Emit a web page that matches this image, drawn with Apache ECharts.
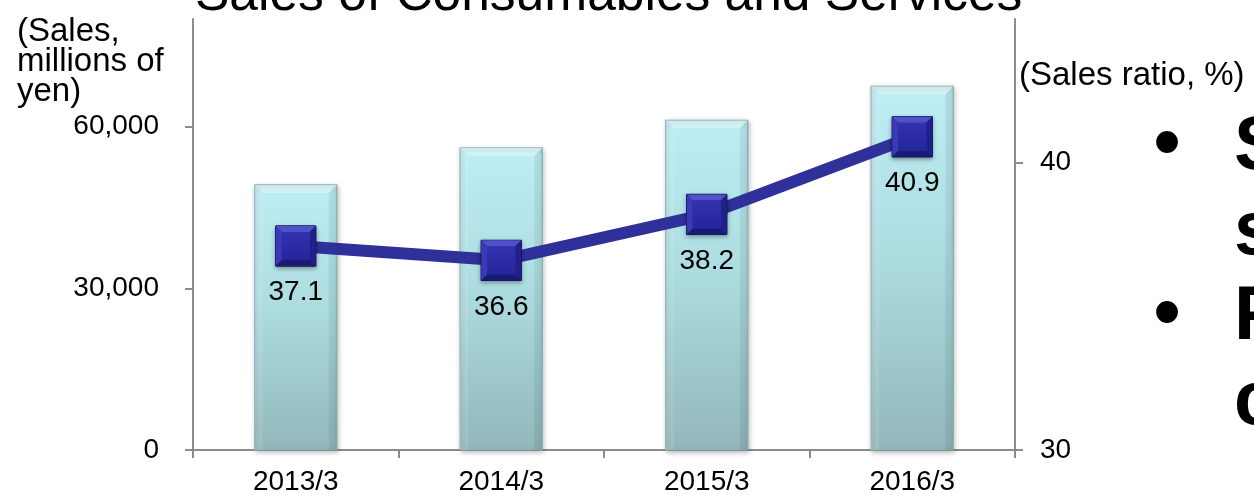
<!DOCTYPE html>
<html>
<head>
<meta charset="utf-8">
<script src="https://cdn.jsdelivr.net/npm/echarts@6/dist/echarts.min.js"></script>
<style>
html,body{margin:0;padding:0;background:#fff;}
#chart{width:1254px;height:497px;}
</style>
</head>
<body>
<div id="chart"></div>
<script>
const categories = ['2013/3', '2014/3', '2015/3', '2016/3'];
const salesValues = [49200, 56100, 61200, 67500];
const ratioValues = [37.1, 36.6, 38.2, 40.9];
const leftTicks = [0, 30000, 60000];
const rightTicks = [30, 40];
const chartTitle = 'Sales of Consumables and Services';
const leftAxisName = '(Sales,\nmillions of\nyen)';
const rightAxisName = '(Sales ratio, %)';
const sideLines = ['S', 's', 'F', 'c'];

const FONT = '"Liberation Sans", Arial, sans-serif';
const axisGray = '#8c8c8c';

const chart = echarts.init(document.getElementById('chart'));

const graphics = [
  { type: 'text', x: 195, y: -4, style: { text: chartTitle, font: '51.5px ' + FONT, fill: '#000', align: 'left', verticalAlign: 'middle' } },
  { type: 'text', x: 17, y: 17, style: { text: leftAxisName, font: '33px ' + FONT, fill: '#000', lineHeight: 30, align: 'left', verticalAlign: 'top' } },
  { type: 'text', x: 1019, y: 59, style: { text: rightAxisName, font: '33px ' + FONT, fill: '#000', align: 'left', verticalAlign: 'top' } }
];
const lineYs = [148, 233, 318, 403];
sideLines.forEach((t, i) => {
  graphics.push({ type: 'text', x: 1234, y: lineYs[i], style: { text: t, font: 'bold 76px ' + FONT, fill: '#000', align: 'left', verticalAlign: 'middle' } });
  if (i === 0 || i === 2) {
    graphics.push({ type: 'text', x: 1167, y: lineYs[i] - 2, style: { text: '\u2022', font: 'bold 76px ' + FONT, fill: '#000', align: 'center', verticalAlign: 'middle' } });
  }
});

const barData = salesValues.map((v, i) => [i, v]);
const markerData = ratioValues.map((v, i) => [i, v]);

function renderBar(params, api) {
  const idx = api.value(0), val = api.value(1);
  const top = api.coord([idx, val]);
  const base = api.coord([idx, 0]);
  const w = api.size([1, 0])[0] * 0.4;
  const x0 = top[0] - w / 2, x1 = top[0] + w / 2, y0 = top[1], y1 = base[1];
  const b = 8;
  return {
    type: 'group',
    children: [
      { type: 'rect', shape: { x: x0, y: y0, width: w, height: y1 - y0 },
        style: {
          fill: new echarts.graphic.LinearGradient(0, 0, 0, 1, [
            { offset: 0, color: '#bdeef3' },
            { offset: 0.45, color: '#addde1' },
            { offset: 1, color: '#92b7ba' }
          ]),
          stroke: '#8fb3b6', lineWidth: 1.2,
          shadowColor: 'rgba(0,0,0,0.28)', shadowBlur: 5, shadowOffsetX: 1, shadowOffsetY: 2
        } },
      { type: 'polygon', shape: { points: [[x0, y0], [x1, y0], [x1 - b, y0 + b], [x0 + b, y0 + b]] },
        style: { fill: 'rgba(255,255,255,0.35)' } },
      { type: 'polygon', shape: { points: [[x0, y0], [x0 + b, y0 + b], [x0 + b, y1], [x0, y1]] },
        style: { fill: 'rgba(255,255,255,0.12)' } },
      { type: 'polygon', shape: { points: [[x1, y0], [x1, y1], [x1 - b, y1], [x1 - b, y0 + b]] },
        style: { fill: 'rgba(0,40,50,0.08)' } }
    ]
  };
}

function renderMarker(params, api) {
  const p = api.coord([api.value(0), api.value(1)]);
  const s = 40, h = s / 2, b = 6;
  const x0 = p[0] - h, x1 = p[0] + h, y0 = p[1] - h, y1 = p[1] + h;
  return {
    type: 'group',
    children: [
      { type: 'rect', shape: { x: x0, y: y0, width: s, height: s },
        style: { fill: '#2b2ba8', stroke: '#15155c', lineWidth: 1,
          shadowColor: 'rgba(0,0,0,0.35)', shadowBlur: 4, shadowOffsetY: 2 } },
      { type: 'polygon', shape: { points: [[x0, y0], [x1, y0], [x1 - b, y0 + b], [x0 + b, y0 + b]] },
        style: { fill: '#5050c8' } },
      { type: 'polygon', shape: { points: [[x0, y0], [x0 + b, y0 + b], [x0 + b, y1 - b], [x0, y1]] },
        style: { fill: '#3a3ab8' } },
      { type: 'polygon', shape: { points: [[x1, y0], [x1, y1], [x1 - b, y1 - b], [x1 - b, y0 + b]] },
        style: { fill: '#20208c' } },
      { type: 'polygon', shape: { points: [[x0, y1], [x1, y1], [x1 - b, y1 - b], [x0 + b, y1 - b]] },
        style: { fill: '#1a1a74' } },
      { type: 'rect', shape: { x: x0 + b, y: y0 + b, width: s - 2 * b, height: s - 2 * b },
        style: { fill: new echarts.graphic.LinearGradient(0, 0, 0, 1, [
          { offset: 0, color: '#3232b0' }, { offset: 1, color: '#25259c' }]) } }
    ]
  };
}

const option = {
  animation: false,
  backgroundColor: '#fff',
  textStyle: { fontFamily: FONT },
  grid: { left: 193, right: 239, top: 19, bottom: 47, containLabel: false },
  xAxis: {
    type: 'category',
    data: categories,
    boundaryGap: true,
    axisLine: { lineStyle: { color: axisGray, width: 2 } },
    axisTick: { show: true, length: 8, lineStyle: { color: axisGray, width: 2 } },
    axisLabel: { color: '#000', fontSize: 28, margin: 18, fontFamily: FONT }
  },
  yAxis: [
    {
      type: 'value', min: 0, max: 80000, interval: 30000,
      splitLine: { show: false },
      axisLine: { show: true, lineStyle: { color: axisGray, width: 2 } },
      axisTick: { show: true, length: 8, customValues: leftTicks, lineStyle: { color: axisGray, width: 2 } },
      axisLabel: { color: '#000', fontSize: 28, margin: 34, fontFamily: FONT, customValues: leftTicks,
        formatter: v => Number(v).toLocaleString('en-US') }
    },
    {
      type: 'value', min: 30, max: 45, interval: 10, position: 'right',
      splitLine: { show: false },
      axisLine: { show: true, lineStyle: { color: axisGray, width: 2 } },
      axisTick: { show: true, length: 8, customValues: rightTicks, lineStyle: { color: axisGray, width: 2 } },
      axisLabel: { color: '#000', fontSize: 28, margin: 25, fontFamily: FONT, customValues: rightTicks }
    }
  ],
  series: [
    {
      type: 'custom',
      data: barData,
      yAxisIndex: 0,
      encode: { x: 0, y: 1 },
      renderItem: renderBar,
      z: 2
    },
    {
      type: 'line',
      data: ratioValues,
      yAxisIndex: 1,
      symbol: 'rect',
      symbolSize: 40,
      z: 5,
      lineStyle: { color: '#30309a', width: 12 },
      itemStyle: { color: '#2b2ba8', borderColor: '#15155c', borderWidth: 1 },
      label: { show: true, position: 'bottom', distance: 12, color: '#000', fontSize: 28, fontFamily: FONT,
        formatter: p => p.value.toFixed(1) }
    },
    {
      type: 'custom',
      data: markerData,
      yAxisIndex: 1,
      encode: { x: 0, y: 1 },
      renderItem: renderMarker,
      z: 6
    }
  ],
  graphic: graphics
};
chart.setOption(option);
</script>
</body>
</html>
